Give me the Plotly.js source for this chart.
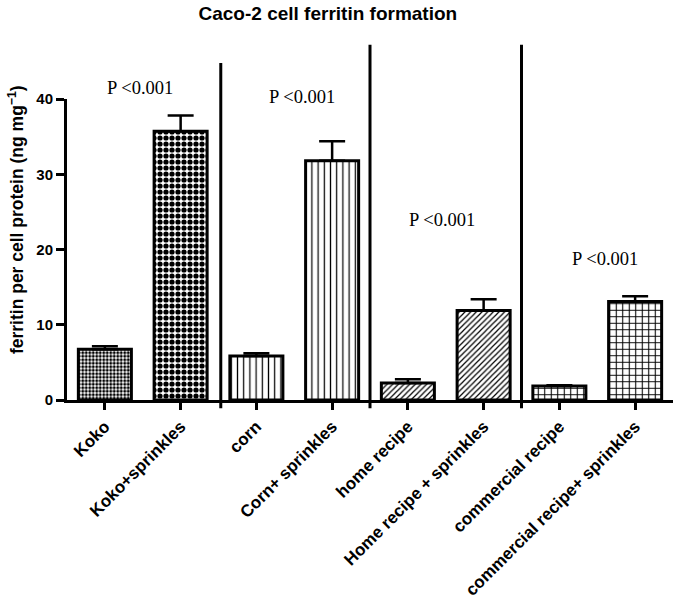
<!DOCTYPE html>
<html>
<head>
<meta charset="utf-8">
<script src="https://cdn.plot.ly/plotly-3.0.1.min.js"></script>
<style>
  body { margin: 0; background: #fff; }
  #chart { width: 676px; height: 604px; }
</style>
</head>
<body>
<div id="chart"></div>
<script>
// groups, values
var groups = ['Koko', 'Koko+sprinkles', 'corn', 'Corn+ sprinkles',
    'home recipe', 'Home recipe + sprinkles', 'commercial recipe', 'commercial recipe+ sprinkles'];
var ferritin = [6.75, 35.7, 5.85, 31.8, 2.25, 11.9, 1.85, 13.1];
var sem = [0.4, 2.1, 0.35, 2.6, 0.5, 1.5, 0.1, 0.7];
var zeros = [0, 0, 0, 0, 0, 0, 0, 0];

// fill patterns per bar (GraphPad-style hatching)
var patShape = ['.', '.', '|', '|', '/', '/', '+', '+'];
var patSize = [3.5, 6, 6.2, 6.2, 4, 4, 6.5, 6.5];
var patSolid = [0.55, 0.6, 0.2, 0.2, 0.3, 0.3, 0.3, 0.3];

// separators between food pairs, and the p-value labels (y in data units)
var dividerX = [1.53, 3.5, 5.5];
var dividerTop = [1.12, 1.18, 1.18];
var pLabel = ['P <0.001', 'P <0.001', 'P <0.001', 'P <0.001'];
var pX = [0.47, 2.6, 4.45, 6.6];
var pY = [41.4, 40.2, 23.9, 18.7];
var yMax = 40;

var bars = {
    type: 'bar',
    x: groups,
    y: ferritin,
    width: 0.7,
    marker: {
        color: 'white',
        line: { color: 'black', width: 3 },
        pattern: {
            shape: patShape,
            size: patSize,
            solidity: patSolid,
            fgcolor: 'black',
            bgcolor: 'white'
        }
    },
    error_y: {
        type: 'data',
        symmetric: false,
        array: sem,
        arrayminus: zeros,
        color: 'black',
        thickness: 2.5,
        width: 13
    },
    hoverinfo: 'x+y'
};

var shapes = dividerX.map(function (xv, i) {
    return {
        type: 'line', xref: 'x', yref: 'paper',
        x0: xv, x1: xv, y0: -0.027, y1: dividerTop[i],
        line: { color: 'black', width: 3 }
    };
});

// paper coords so labels above the axis top are still drawn
var annotations = pLabel.map(function (t, i) {
    return {
        text: t, x: pX[i], y: pY[i] / yMax, xref: 'x', yref: 'paper',
        xanchor: 'center', yanchor: 'middle',
        showarrow: false,
        font: { family: 'Liberation Serif, Times New Roman, serif', size: 18.5, color: 'black' }
    };
});
annotations.push({
    text: 'ferritin per cell protein (ng mg<sup>\u22121</sup>)',
    xref: 'paper', yref: 'paper', x: -0.084, y: 0.598,
    xanchor: 'center', yanchor: 'middle',
    textangle: -90, showarrow: false,
    font: { family: 'Liberation Sans, Arial, sans-serif', size: 17.5, weight: 'bold', color: 'black' }
});

var layout = {
    width: 676,
    height: 604,
    margin: { l: 67, r: 3, t: 99, b: 204 },
    paper_bgcolor: 'white',
    plot_bgcolor: 'white',
    showlegend: false,
    font: { family: 'Liberation Sans, Arial, sans-serif', color: 'black' },
    title: {
        text: 'Caco-2 cell ferritin formation',
        xref: 'container', yref: 'container',
        x: 0.485, y: 0.978, xanchor: 'center', yanchor: 'middle',
        font: { size: 19, weight: 'bold', color: 'black' }
    },
    xaxis: {
        type: 'category',
        range: [-0.5, 7.5],
        showline: true, linecolor: 'black', linewidth: 3,
        ticks: 'outside', ticklen: 7, tickwidth: 3, tickcolor: 'black',
        tickangle: -45,
        tickfont: { size: 17, weight: 'bold', color: 'black' },
        showgrid: false, zeroline: false
    },
    yaxis: {
        range: [0, yMax],
        tickvals: [0, 10, 20, 30, 40],
        showline: true, linecolor: 'black', linewidth: 3,
        ticks: 'outside', ticklen: 8, tickwidth: 3, tickcolor: 'black',
        tickfont: { size: 15, weight: 'bold', color: 'black' },
        showgrid: false, zeroline: false
    },
    shapes: shapes,
    annotations: annotations
};

Plotly.newPlot('chart', [bars], layout, { displayModeBar: false, staticPlot: true });
</script>
</body>
</html>
